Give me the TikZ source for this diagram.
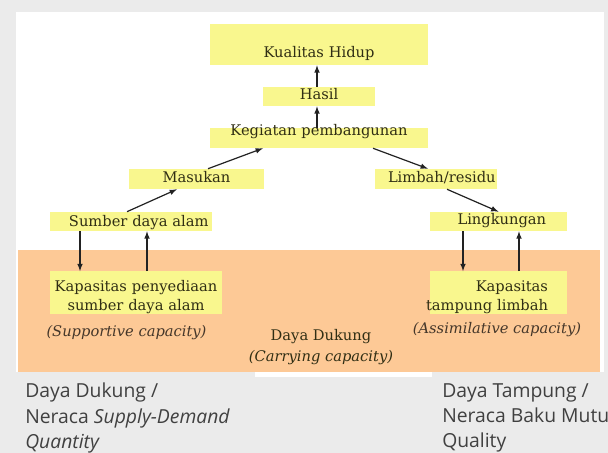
\documentclass[tikz,border=0pt]{standalone}
\usepackage{fontspec}
\setmainfont{DejaVu Serif}
\newfontfamily\slidefont{Open Sans}
\usetikzlibrary{calc}

\definecolor{slidegray}{HTML}{EBEBEB}
\definecolor{boxyellow}{HTML}{F9F78E}
\definecolor{peach}{HTML}{FDC996}
\definecolor{inkolive}{HTML}{302E14}
\definecolor{inkbrown}{HTML}{45372A}
\definecolor{arrowgray}{HTML}{222222}

\begin{document}
\begin{tikzpicture}
  [x=0.75pt,y=-0.75pt,>=latex,
   every node/.style={font=\fontsize{11}{14.25}\selectfont,text=inkolive},
   boxfill/.style={fill=boxyellow,inner sep=0pt},
   note/.style={font=\fontsize{11}{15}\selectfont\itshape,text=inkbrown},
   caption/.style={font=\slidefont\fontsize{14.5}{19}\selectfont,text=black!75,
     inner sep=0pt,align=left,anchor=north west},
   arr/.style={->,line width=0.9pt,draw=arrowgray}]
  \useasboundingbox (0,0) rectangle (608,453);
  % slide background
  \fill[slidegray] (0,0) rectangle (608,453);
  \fill[white] (16,12) rectangle (604,372);
  \fill[peach] (18,250) rectangle (600,372);
  \fill[white] (255,372) rectangle (432,377);

  \node[boxfill,text width=163.5pt,text height=25pt,text depth=5.8pt,align=center]
    (kualitas) at (319,44.5) {Kualitas Hidup};
  \node[boxfill,text width=84pt,text height=9.4pt,text depth=4.9pt,align=center]
    (hasil) at (319,96.5) {Hasil};
  \node[boxfill,text width=163.5pt,text height=5.6pt,text depth=9.4pt,align=center]
    (kegiatan) at (319,138) {Kegiatan pembangunan};
  \node[boxfill,text width=101.25pt,text height=10.1pt,text depth=4.9pt,align=center]
    (masukan) at (196.5,179) {Masukan};
  \node[boxfill,text width=91.5pt,text height=10.1pt,text depth=4.9pt,align=left]
    (limbah) at (436,179) {\hspace*{9.75pt}Limbah/residu};
  \node[boxfill,text width=121.5pt,text height=10.9pt,text depth=3.4pt,align=left]
    (sumber) at (131,221.5) {\hspace*{14.25pt}Sumber daya alam};
  \node[boxfill,text width=102.75pt,text height=9.4pt,text depth=4.9pt,align=center]
    (lingkungan) at (498.5,221.5) {\hspace*{5pt}Lingkungan};
  \node[boxfill,text width=129pt,minimum height=30.75pt,align=center]
    (penyediaan) at (136,292.5)
    {\rule{0pt}{15pt}Kapasitas penyediaan\\sumber daya alam};
  \node[boxfill,text width=102.75pt,minimum height=30.75pt,align=right]
    (tampung) at (498.5,292.5)
    {\rule{0pt}{15pt}Kapasitas\kern14.25pt\null\\
     \hspace*{-30pt}tampung limbah\kern14.25pt\null};

  \node[note] (supportive) at (126.5,333) {(Supportive capacity)};
  \node[align=center] (dukung) at (321,347.5)
    {Daya Dukung\\[1.5pt]\textit{(Carrying capacity)}};
  \node[note] (assimilative) at (497,330) {(Assimilative capacity)};

  \node[caption] (quantity) at (25,383)
    {Daya Dukung /\\Neraca \textit{Supply-Demand}\\\textit{Quantity}};
  \node[caption] (quality) at (442,383)
    {Daya Tampung /\\Neraca Baku Mutu\\Quality};

  \foreach \a/\da/\b/\db in {hasil.north/-2/kualitas.south/-2,
      kegiatan.north/-2/hasil.south/-2,
      masukan.north/11.5/kegiatan.south/-56,
      sumber.north/-4/masukan.south/-19.5,
      kegiatan.south/54/limbah.north/-8,
      limbah.south/11/lingkungan.north/0,
      sumber.south/-51/penyediaan.north/-56,
      penyediaan.north/11/sumber.south/16,
      lingkungan.south/-35.5/tampung.north/-35.5,
      tampung.north/20.5/lingkungan.south/20.5}
    \draw[arr] ($(\a)+(\da,0)$) -- ($(\b)+(\db,0)$);
\end{tikzpicture}
\end{document}
